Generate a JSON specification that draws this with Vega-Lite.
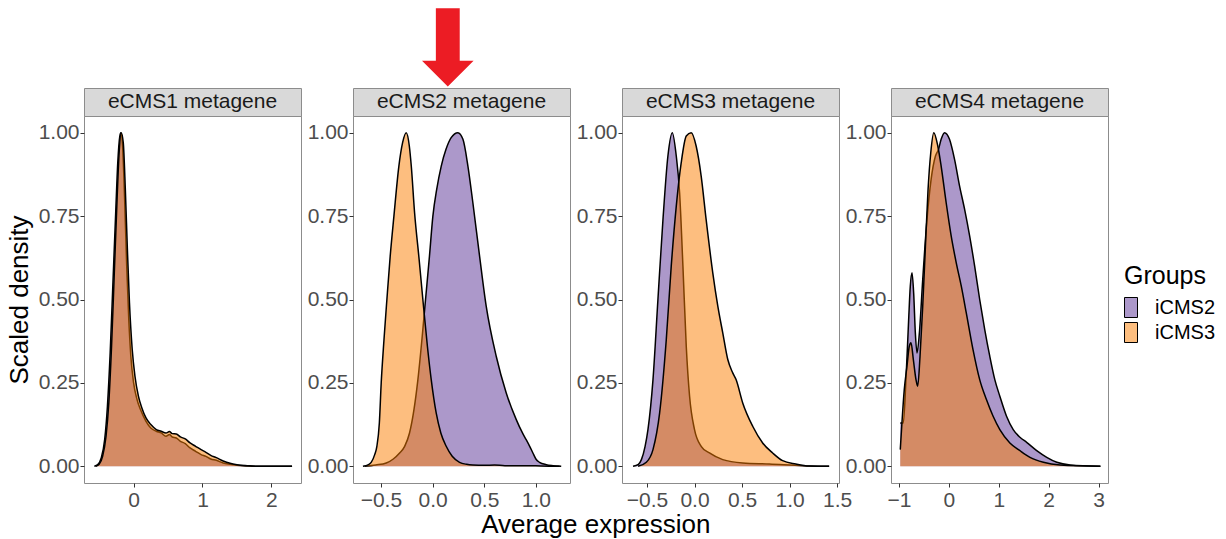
{
  "$schema": "https://vega.github.io/schema/vega-lite/v6.json",
  "padding": {"left": 5, "top": 0, "right": 5, "bottom": 5},
  "autosize": {"type": "pad"},
  "background": "white",
  "title": {"text": "Average expression", "orient": "bottom", "anchor": "middle", "fontSize": 26, "font": "Liberation Sans", "fontWeight": "normal", "color": "#000000", "offset": 1, "dx": -15},
  "datasets": {
    "d": [
      {"panel": "eCMS1 metagene", "group": "iCMS2", "x": -0.57, "y": 0},
      {"panel": "eCMS1 metagene", "group": "iCMS2", "x": -0.52, "y": 0.005},
      {"panel": "eCMS1 metagene", "group": "iCMS2", "x": -0.47, "y": 0.025},
      {"panel": "eCMS1 metagene", "group": "iCMS2", "x": -0.42, "y": 0.08},
      {"panel": "eCMS1 metagene", "group": "iCMS2", "x": -0.38, "y": 0.18},
      {"panel": "eCMS1 metagene", "group": "iCMS2", "x": -0.34, "y": 0.34},
      {"panel": "eCMS1 metagene", "group": "iCMS2", "x": -0.30, "y": 0.55},
      {"panel": "eCMS1 metagene", "group": "iCMS2", "x": -0.26, "y": 0.76},
      {"panel": "eCMS1 metagene", "group": "iCMS2", "x": -0.23, "y": 0.91},
      {"panel": "eCMS1 metagene", "group": "iCMS2", "x": -0.20, "y": 0.99},
      {"panel": "eCMS1 metagene", "group": "iCMS2", "x": -0.185, "y": 1.0},
      {"panel": "eCMS1 metagene", "group": "iCMS2", "x": -0.16, "y": 0.96},
      {"panel": "eCMS1 metagene", "group": "iCMS2", "x": -0.13, "y": 0.80},
      {"panel": "eCMS1 metagene", "group": "iCMS2", "x": -0.10, "y": 0.60},
      {"panel": "eCMS1 metagene", "group": "iCMS2", "x": -0.07, "y": 0.44},
      {"panel": "eCMS1 metagene", "group": "iCMS2", "x": -0.04, "y": 0.33},
      {"panel": "eCMS1 metagene", "group": "iCMS2", "x": 0.0, "y": 0.25},
      {"panel": "eCMS1 metagene", "group": "iCMS2", "x": 0.05, "y": 0.20},
      {"panel": "eCMS1 metagene", "group": "iCMS2", "x": 0.10, "y": 0.17},
      {"panel": "eCMS1 metagene", "group": "iCMS2", "x": 0.18, "y": 0.135},
      {"panel": "eCMS1 metagene", "group": "iCMS2", "x": 0.25, "y": 0.115},
      {"panel": "eCMS1 metagene", "group": "iCMS2", "x": 0.33, "y": 0.105},
      {"panel": "eCMS1 metagene", "group": "iCMS2", "x": 0.40, "y": 0.10},
      {"panel": "eCMS1 metagene", "group": "iCMS2", "x": 0.47, "y": 0.09},
      {"panel": "eCMS1 metagene", "group": "iCMS2", "x": 0.52, "y": 0.095},
      {"panel": "eCMS1 metagene", "group": "iCMS2", "x": 0.56, "y": 0.088},
      {"panel": "eCMS1 metagene", "group": "iCMS2", "x": 0.62, "y": 0.085},
      {"panel": "eCMS1 metagene", "group": "iCMS2", "x": 0.68, "y": 0.075},
      {"panel": "eCMS1 metagene", "group": "iCMS2", "x": 0.75, "y": 0.068},
      {"panel": "eCMS1 metagene", "group": "iCMS2", "x": 0.82, "y": 0.055},
      {"panel": "eCMS1 metagene", "group": "iCMS2", "x": 0.90, "y": 0.045},
      {"panel": "eCMS1 metagene", "group": "iCMS2", "x": 0.98, "y": 0.035},
      {"panel": "eCMS1 metagene", "group": "iCMS2", "x": 1.05, "y": 0.03},
      {"panel": "eCMS1 metagene", "group": "iCMS2", "x": 1.12, "y": 0.022},
      {"panel": "eCMS1 metagene", "group": "iCMS2", "x": 1.20, "y": 0.018},
      {"panel": "eCMS1 metagene", "group": "iCMS2", "x": 1.30, "y": 0.01},
      {"panel": "eCMS1 metagene", "group": "iCMS2", "x": 1.40, "y": 0.006},
      {"panel": "eCMS1 metagene", "group": "iCMS2", "x": 1.50, "y": 0.003},
      {"panel": "eCMS1 metagene", "group": "iCMS2", "x": 1.65, "y": 0.001},
      {"panel": "eCMS1 metagene", "group": "iCMS2", "x": 1.80, "y": 0},
      {"panel": "eCMS1 metagene", "group": "iCMS2", "x": 2.0, "y": 0},
      {"panel": "eCMS1 metagene", "group": "iCMS2", "x": 2.30, "y": 0},

      {"panel": "eCMS1 metagene", "group": "iCMS3", "x": -0.55, "y": 0},
      {"panel": "eCMS1 metagene", "group": "iCMS3", "x": -0.50, "y": 0.006},
      {"panel": "eCMS1 metagene", "group": "iCMS3", "x": -0.45, "y": 0.03},
      {"panel": "eCMS1 metagene", "group": "iCMS3", "x": -0.40, "y": 0.09},
      {"panel": "eCMS1 metagene", "group": "iCMS3", "x": -0.36, "y": 0.19},
      {"panel": "eCMS1 metagene", "group": "iCMS3", "x": -0.32, "y": 0.36},
      {"panel": "eCMS1 metagene", "group": "iCMS3", "x": -0.28, "y": 0.58},
      {"panel": "eCMS1 metagene", "group": "iCMS3", "x": -0.24, "y": 0.80},
      {"panel": "eCMS1 metagene", "group": "iCMS3", "x": -0.21, "y": 0.94},
      {"panel": "eCMS1 metagene", "group": "iCMS3", "x": -0.18, "y": 1.0},
      {"panel": "eCMS1 metagene", "group": "iCMS3", "x": -0.15, "y": 0.97},
      {"panel": "eCMS1 metagene", "group": "iCMS3", "x": -0.12, "y": 0.83},
      {"panel": "eCMS1 metagene", "group": "iCMS3", "x": -0.09, "y": 0.65},
      {"panel": "eCMS1 metagene", "group": "iCMS3", "x": -0.06, "y": 0.49},
      {"panel": "eCMS1 metagene", "group": "iCMS3", "x": -0.02, "y": 0.35},
      {"panel": "eCMS1 metagene", "group": "iCMS3", "x": 0.02, "y": 0.27},
      {"panel": "eCMS1 metagene", "group": "iCMS3", "x": 0.07, "y": 0.21},
      {"panel": "eCMS1 metagene", "group": "iCMS3", "x": 0.12, "y": 0.175},
      {"panel": "eCMS1 metagene", "group": "iCMS3", "x": 0.18, "y": 0.145},
      {"panel": "eCMS1 metagene", "group": "iCMS3", "x": 0.25, "y": 0.125},
      {"panel": "eCMS1 metagene", "group": "iCMS3", "x": 0.33, "y": 0.11},
      {"panel": "eCMS1 metagene", "group": "iCMS3", "x": 0.40, "y": 0.105},
      {"panel": "eCMS1 metagene", "group": "iCMS3", "x": 0.47, "y": 0.10},
      {"panel": "eCMS1 metagene", "group": "iCMS3", "x": 0.52, "y": 0.104},
      {"panel": "eCMS1 metagene", "group": "iCMS3", "x": 0.56, "y": 0.098},
      {"panel": "eCMS1 metagene", "group": "iCMS3", "x": 0.62, "y": 0.097},
      {"panel": "eCMS1 metagene", "group": "iCMS3", "x": 0.68, "y": 0.088},
      {"panel": "eCMS1 metagene", "group": "iCMS3", "x": 0.75, "y": 0.082},
      {"panel": "eCMS1 metagene", "group": "iCMS3", "x": 0.82, "y": 0.07},
      {"panel": "eCMS1 metagene", "group": "iCMS3", "x": 0.90, "y": 0.06},
      {"panel": "eCMS1 metagene", "group": "iCMS3", "x": 0.98, "y": 0.05},
      {"panel": "eCMS1 metagene", "group": "iCMS3", "x": 1.05, "y": 0.042},
      {"panel": "eCMS1 metagene", "group": "iCMS3", "x": 1.12, "y": 0.033},
      {"panel": "eCMS1 metagene", "group": "iCMS3", "x": 1.20, "y": 0.026},
      {"panel": "eCMS1 metagene", "group": "iCMS3", "x": 1.30, "y": 0.016},
      {"panel": "eCMS1 metagene", "group": "iCMS3", "x": 1.40, "y": 0.009},
      {"panel": "eCMS1 metagene", "group": "iCMS3", "x": 1.50, "y": 0.005},
      {"panel": "eCMS1 metagene", "group": "iCMS3", "x": 1.65, "y": 0.002},
      {"panel": "eCMS1 metagene", "group": "iCMS3", "x": 1.80, "y": 0},
      {"panel": "eCMS1 metagene", "group": "iCMS3", "x": 2.0, "y": 0},
      {"panel": "eCMS1 metagene", "group": "iCMS3", "x": 2.30, "y": 0},

      {"panel": "eCMS2 metagene", "group": "iCMS2", "x": -0.658, "y": 0},
      {"panel": "eCMS2 metagene", "group": "iCMS2", "x": -0.55, "y": 0.004},
      {"panel": "eCMS2 metagene", "group": "iCMS2", "x": -0.448, "y": 0.01},
      {"panel": "eCMS2 metagene", "group": "iCMS2", "x": -0.38, "y": 0.022},
      {"panel": "eCMS2 metagene", "group": "iCMS2", "x": -0.319, "y": 0.04},
      {"panel": "eCMS2 metagene", "group": "iCMS2", "x": -0.27, "y": 0.06},
      {"panel": "eCMS2 metagene", "group": "iCMS2", "x": -0.223, "y": 0.10},
      {"panel": "eCMS2 metagene", "group": "iCMS2", "x": -0.18, "y": 0.17},
      {"panel": "eCMS2 metagene", "group": "iCMS2", "x": -0.142, "y": 0.26},
      {"panel": "eCMS2 metagene", "group": "iCMS2", "x": -0.10, "y": 0.39},
      {"panel": "eCMS2 metagene", "group": "iCMS2", "x": -0.068, "y": 0.50},
      {"panel": "eCMS2 metagene", "group": "iCMS2", "x": -0.03, "y": 0.63},
      {"panel": "eCMS2 metagene", "group": "iCMS2", "x": 0.003, "y": 0.75},
      {"panel": "eCMS2 metagene", "group": "iCMS2", "x": 0.04, "y": 0.83},
      {"panel": "eCMS2 metagene", "group": "iCMS2", "x": 0.084, "y": 0.90},
      {"panel": "eCMS2 metagene", "group": "iCMS2", "x": 0.13, "y": 0.95},
      {"panel": "eCMS2 metagene", "group": "iCMS2", "x": 0.18, "y": 0.985},
      {"panel": "eCMS2 metagene", "group": "iCMS2", "x": 0.245, "y": 1.0},
      {"panel": "eCMS2 metagene", "group": "iCMS2", "x": 0.294, "y": 0.98},
      {"panel": "eCMS2 metagene", "group": "iCMS2", "x": 0.342, "y": 0.90},
      {"panel": "eCMS2 metagene", "group": "iCMS2", "x": 0.39, "y": 0.79},
      {"panel": "eCMS2 metagene", "group": "iCMS2", "x": 0.455, "y": 0.63},
      {"panel": "eCMS2 metagene", "group": "iCMS2", "x": 0.519, "y": 0.48},
      {"panel": "eCMS2 metagene", "group": "iCMS2", "x": 0.616, "y": 0.33},
      {"panel": "eCMS2 metagene", "group": "iCMS2", "x": 0.713, "y": 0.22},
      {"panel": "eCMS2 metagene", "group": "iCMS2", "x": 0.81, "y": 0.14},
      {"panel": "eCMS2 metagene", "group": "iCMS2", "x": 0.87, "y": 0.10},
      {"panel": "eCMS2 metagene", "group": "iCMS2", "x": 0.906, "y": 0.08},
      {"panel": "eCMS2 metagene", "group": "iCMS2", "x": 0.94, "y": 0.06},
      {"panel": "eCMS2 metagene", "group": "iCMS2", "x": 0.971, "y": 0.04},
      {"panel": "eCMS2 metagene", "group": "iCMS2", "x": 1.0, "y": 0.022},
      {"panel": "eCMS2 metagene", "group": "iCMS2", "x": 1.035, "y": 0.012},
      {"panel": "eCMS2 metagene", "group": "iCMS2", "x": 1.10, "y": 0.005},
      {"panel": "eCMS2 metagene", "group": "iCMS2", "x": 1.165, "y": 0.002},
      {"panel": "eCMS2 metagene", "group": "iCMS2", "x": 1.245, "y": 0},

      {"panel": "eCMS2 metagene", "group": "iCMS3", "x": -0.674, "y": 0},
      {"panel": "eCMS2 metagene", "group": "iCMS3", "x": -0.62, "y": 0.005},
      {"panel": "eCMS2 metagene", "group": "iCMS3", "x": -0.594, "y": 0.012},
      {"panel": "eCMS2 metagene", "group": "iCMS3", "x": -0.56, "y": 0.035},
      {"panel": "eCMS2 metagene", "group": "iCMS3", "x": -0.539, "y": 0.06},
      {"panel": "eCMS2 metagene", "group": "iCMS3", "x": -0.515, "y": 0.13},
      {"panel": "eCMS2 metagene", "group": "iCMS3", "x": -0.497, "y": 0.25},
      {"panel": "eCMS2 metagene", "group": "iCMS3", "x": -0.47, "y": 0.38},
      {"panel": "eCMS2 metagene", "group": "iCMS3", "x": -0.442, "y": 0.50},
      {"panel": "eCMS2 metagene", "group": "iCMS3", "x": -0.41, "y": 0.63},
      {"panel": "eCMS2 metagene", "group": "iCMS3", "x": -0.374, "y": 0.75},
      {"panel": "eCMS2 metagene", "group": "iCMS3", "x": -0.326, "y": 0.90},
      {"panel": "eCMS2 metagene", "group": "iCMS3", "x": -0.29, "y": 0.97},
      {"panel": "eCMS2 metagene", "group": "iCMS3", "x": -0.255, "y": 1.0},
      {"panel": "eCMS2 metagene", "group": "iCMS3", "x": -0.225, "y": 0.96},
      {"panel": "eCMS2 metagene", "group": "iCMS3", "x": -0.206, "y": 0.90},
      {"panel": "eCMS2 metagene", "group": "iCMS3", "x": -0.174, "y": 0.76},
      {"panel": "eCMS2 metagene", "group": "iCMS3", "x": -0.13, "y": 0.62},
      {"panel": "eCMS2 metagene", "group": "iCMS3", "x": -0.094, "y": 0.50},
      {"panel": "eCMS2 metagene", "group": "iCMS3", "x": -0.05, "y": 0.36},
      {"panel": "eCMS2 metagene", "group": "iCMS3", "x": -0.013, "y": 0.26},
      {"panel": "eCMS2 metagene", "group": "iCMS3", "x": 0.035, "y": 0.16},
      {"panel": "eCMS2 metagene", "group": "iCMS3", "x": 0.08, "y": 0.10},
      {"panel": "eCMS2 metagene", "group": "iCMS3", "x": 0.132, "y": 0.06},
      {"panel": "eCMS2 metagene", "group": "iCMS3", "x": 0.19, "y": 0.03},
      {"panel": "eCMS2 metagene", "group": "iCMS3", "x": 0.261, "y": 0.012},
      {"panel": "eCMS2 metagene", "group": "iCMS3", "x": 0.33, "y": 0.006},
      {"panel": "eCMS2 metagene", "group": "iCMS3", "x": 0.39, "y": 0.004},
      {"panel": "eCMS2 metagene", "group": "iCMS3", "x": 0.5, "y": 0.003},
      {"panel": "eCMS2 metagene", "group": "iCMS3", "x": 0.6, "y": 0.004},
      {"panel": "eCMS2 metagene", "group": "iCMS3", "x": 0.7, "y": 0.002},
      {"panel": "eCMS2 metagene", "group": "iCMS3", "x": 0.9, "y": 0.002},
      {"panel": "eCMS2 metagene", "group": "iCMS3", "x": 1.05, "y": 0.001},
      {"panel": "eCMS2 metagene", "group": "iCMS3", "x": 1.229, "y": 0},

      {"panel": "eCMS3 metagene", "group": "iCMS2", "x": -0.647, "y": 0},
      {"panel": "eCMS3 metagene", "group": "iCMS2", "x": -0.59, "y": 0.006},
      {"panel": "eCMS3 metagene", "group": "iCMS2", "x": -0.559, "y": 0.02},
      {"panel": "eCMS3 metagene", "group": "iCMS2", "x": -0.52, "y": 0.06},
      {"panel": "eCMS3 metagene", "group": "iCMS2", "x": -0.49, "y": 0.11},
      {"panel": "eCMS3 metagene", "group": "iCMS2", "x": -0.437, "y": 0.26},
      {"panel": "eCMS3 metagene", "group": "iCMS2", "x": -0.385, "y": 0.50},
      {"panel": "eCMS3 metagene", "group": "iCMS2", "x": -0.332, "y": 0.74},
      {"panel": "eCMS3 metagene", "group": "iCMS2", "x": -0.28, "y": 0.93},
      {"panel": "eCMS3 metagene", "group": "iCMS2", "x": -0.234, "y": 1.0},
      {"panel": "eCMS3 metagene", "group": "iCMS2", "x": -0.192, "y": 0.93},
      {"panel": "eCMS3 metagene", "group": "iCMS2", "x": -0.157, "y": 0.82},
      {"panel": "eCMS3 metagene", "group": "iCMS2", "x": -0.122, "y": 0.60},
      {"panel": "eCMS3 metagene", "group": "iCMS2", "x": -0.087, "y": 0.36},
      {"panel": "eCMS3 metagene", "group": "iCMS2", "x": -0.052, "y": 0.21},
      {"panel": "eCMS3 metagene", "group": "iCMS2", "x": 0.0, "y": 0.11},
      {"panel": "eCMS3 metagene", "group": "iCMS2", "x": 0.07, "y": 0.06},
      {"panel": "eCMS3 metagene", "group": "iCMS2", "x": 0.157, "y": 0.04},
      {"panel": "eCMS3 metagene", "group": "iCMS2", "x": 0.297, "y": 0.02},
      {"panel": "eCMS3 metagene", "group": "iCMS2", "x": 0.507, "y": 0.01},
      {"panel": "eCMS3 metagene", "group": "iCMS2", "x": 0.787, "y": 0.007},
      {"panel": "eCMS3 metagene", "group": "iCMS2", "x": 1.136, "y": 0.002},
      {"panel": "eCMS3 metagene", "group": "iCMS2", "x": 1.416, "y": 0},

      {"panel": "eCMS3 metagene", "group": "iCMS3", "x": -0.594, "y": 0},
      {"panel": "eCMS3 metagene", "group": "iCMS3", "x": -0.507, "y": 0.012},
      {"panel": "eCMS3 metagene", "group": "iCMS3", "x": -0.437, "y": 0.05},
      {"panel": "eCMS3 metagene", "group": "iCMS3", "x": -0.367, "y": 0.16},
      {"panel": "eCMS3 metagene", "group": "iCMS3", "x": -0.297, "y": 0.38},
      {"panel": "eCMS3 metagene", "group": "iCMS3", "x": -0.245, "y": 0.60},
      {"panel": "eCMS3 metagene", "group": "iCMS3", "x": -0.192, "y": 0.78},
      {"panel": "eCMS3 metagene", "group": "iCMS3", "x": -0.14, "y": 0.91},
      {"panel": "eCMS3 metagene", "group": "iCMS3", "x": -0.087, "y": 0.99},
      {"panel": "eCMS3 metagene", "group": "iCMS3", "x": -0.035, "y": 1.0},
      {"panel": "eCMS3 metagene", "group": "iCMS3", "x": 0.017, "y": 0.96},
      {"panel": "eCMS3 metagene", "group": "iCMS3", "x": 0.07, "y": 0.87},
      {"panel": "eCMS3 metagene", "group": "iCMS3", "x": 0.122, "y": 0.74},
      {"panel": "eCMS3 metagene", "group": "iCMS3", "x": 0.192, "y": 0.58},
      {"panel": "eCMS3 metagene", "group": "iCMS3", "x": 0.245, "y": 0.48},
      {"panel": "eCMS3 metagene", "group": "iCMS3", "x": 0.297, "y": 0.40},
      {"panel": "eCMS3 metagene", "group": "iCMS3", "x": 0.35, "y": 0.32},
      {"panel": "eCMS3 metagene", "group": "iCMS3", "x": 0.402, "y": 0.28},
      {"panel": "eCMS3 metagene", "group": "iCMS3", "x": 0.437, "y": 0.26},
      {"panel": "eCMS3 metagene", "group": "iCMS3", "x": 0.507, "y": 0.19},
      {"panel": "eCMS3 metagene", "group": "iCMS3", "x": 0.612, "y": 0.12},
      {"panel": "eCMS3 metagene", "group": "iCMS3", "x": 0.717, "y": 0.07},
      {"panel": "eCMS3 metagene", "group": "iCMS3", "x": 0.822, "y": 0.04},
      {"panel": "eCMS3 metagene", "group": "iCMS3", "x": 0.927, "y": 0.017},
      {"panel": "eCMS3 metagene", "group": "iCMS3", "x": 1.066, "y": 0.007},
      {"panel": "eCMS3 metagene", "group": "iCMS3", "x": 1.206, "y": 0.001},
      {"panel": "eCMS3 metagene", "group": "iCMS3", "x": 1.416, "y": 0},

      {"panel": "eCMS4 metagene", "group": "iCMS2", "x": -0.974, "y": 0.13},
      {"panel": "eCMS4 metagene", "group": "iCMS2", "x": -0.914, "y": 0.13},
      {"panel": "eCMS4 metagene", "group": "iCMS2", "x": -0.860, "y": 0.26},
      {"panel": "eCMS4 metagene", "group": "iCMS2", "x": -0.806, "y": 0.44},
      {"panel": "eCMS4 metagene", "group": "iCMS2", "x": -0.773, "y": 0.54},
      {"panel": "eCMS4 metagene", "group": "iCMS2", "x": -0.739, "y": 0.58},
      {"panel": "eCMS4 metagene", "group": "iCMS2", "x": -0.706, "y": 0.52},
      {"panel": "eCMS4 metagene", "group": "iCMS2", "x": -0.672, "y": 0.40},
      {"panel": "eCMS4 metagene", "group": "iCMS2", "x": -0.638, "y": 0.34},
      {"panel": "eCMS4 metagene", "group": "iCMS2", "x": -0.591, "y": 0.40},
      {"panel": "eCMS4 metagene", "group": "iCMS2", "x": -0.524, "y": 0.56},
      {"panel": "eCMS4 metagene", "group": "iCMS2", "x": -0.444, "y": 0.73},
      {"panel": "eCMS4 metagene", "group": "iCMS2", "x": -0.356, "y": 0.86},
      {"panel": "eCMS4 metagene", "group": "iCMS2", "x": -0.269, "y": 0.93},
      {"panel": "eCMS4 metagene", "group": "iCMS2", "x": -0.208, "y": 0.95},
      {"panel": "eCMS4 metagene", "group": "iCMS2", "x": -0.155, "y": 0.98},
      {"panel": "eCMS4 metagene", "group": "iCMS2", "x": -0.087, "y": 1.0},
      {"panel": "eCMS4 metagene", "group": "iCMS2", "x": 0.013, "y": 0.98},
      {"panel": "eCMS4 metagene", "group": "iCMS2", "x": 0.114, "y": 0.92},
      {"panel": "eCMS4 metagene", "group": "iCMS2", "x": 0.215, "y": 0.84},
      {"panel": "eCMS4 metagene", "group": "iCMS2", "x": 0.316, "y": 0.77},
      {"panel": "eCMS4 metagene", "group": "iCMS2", "x": 0.417, "y": 0.69},
      {"panel": "eCMS4 metagene", "group": "iCMS2", "x": 0.517, "y": 0.60},
      {"panel": "eCMS4 metagene", "group": "iCMS2", "x": 0.618, "y": 0.50},
      {"panel": "eCMS4 metagene", "group": "iCMS2", "x": 0.719, "y": 0.41},
      {"panel": "eCMS4 metagene", "group": "iCMS2", "x": 0.820, "y": 0.33},
      {"panel": "eCMS4 metagene", "group": "iCMS2", "x": 0.921, "y": 0.26},
      {"panel": "eCMS4 metagene", "group": "iCMS2", "x": 1.022, "y": 0.21},
      {"panel": "eCMS4 metagene", "group": "iCMS2", "x": 1.156, "y": 0.15},
      {"panel": "eCMS4 metagene", "group": "iCMS2", "x": 1.290, "y": 0.11},
      {"panel": "eCMS4 metagene", "group": "iCMS2", "x": 1.425, "y": 0.087},
      {"panel": "eCMS4 metagene", "group": "iCMS2", "x": 1.559, "y": 0.072},
      {"panel": "eCMS4 metagene", "group": "iCMS2", "x": 1.761, "y": 0.047},
      {"panel": "eCMS4 metagene", "group": "iCMS2", "x": 1.962, "y": 0.027},
      {"panel": "eCMS4 metagene", "group": "iCMS2", "x": 2.164, "y": 0.012},
      {"panel": "eCMS4 metagene", "group": "iCMS2", "x": 2.433, "y": 0.004},
      {"panel": "eCMS4 metagene", "group": "iCMS2", "x": 3.038, "y": 0},

      {"panel": "eCMS4 metagene", "group": "iCMS3", "x": -0.974, "y": 0.05},
      {"panel": "eCMS4 metagene", "group": "iCMS3", "x": -0.941, "y": 0.13},
      {"panel": "eCMS4 metagene", "group": "iCMS3", "x": -0.894, "y": 0.23},
      {"panel": "eCMS4 metagene", "group": "iCMS3", "x": -0.840, "y": 0.30},
      {"panel": "eCMS4 metagene", "group": "iCMS3", "x": -0.793, "y": 0.36},
      {"panel": "eCMS4 metagene", "group": "iCMS3", "x": -0.759, "y": 0.37},
      {"panel": "eCMS4 metagene", "group": "iCMS3", "x": -0.712, "y": 0.32},
      {"panel": "eCMS4 metagene", "group": "iCMS3", "x": -0.659, "y": 0.26},
      {"panel": "eCMS4 metagene", "group": "iCMS3", "x": -0.625, "y": 0.24},
      {"panel": "eCMS4 metagene", "group": "iCMS3", "x": -0.578, "y": 0.33},
      {"panel": "eCMS4 metagene", "group": "iCMS3", "x": -0.524, "y": 0.48},
      {"panel": "eCMS4 metagene", "group": "iCMS3", "x": -0.470, "y": 0.66},
      {"panel": "eCMS4 metagene", "group": "iCMS3", "x": -0.417, "y": 0.83},
      {"panel": "eCMS4 metagene", "group": "iCMS3", "x": -0.363, "y": 0.94},
      {"panel": "eCMS4 metagene", "group": "iCMS3", "x": -0.302, "y": 1.0},
      {"panel": "eCMS4 metagene", "group": "iCMS3", "x": -0.222, "y": 0.96},
      {"panel": "eCMS4 metagene", "group": "iCMS3", "x": -0.155, "y": 0.90},
      {"panel": "eCMS4 metagene", "group": "iCMS3", "x": -0.054, "y": 0.79},
      {"panel": "eCMS4 metagene", "group": "iCMS3", "x": 0.047, "y": 0.69},
      {"panel": "eCMS4 metagene", "group": "iCMS3", "x": 0.148, "y": 0.61},
      {"panel": "eCMS4 metagene", "group": "iCMS3", "x": 0.249, "y": 0.54},
      {"panel": "eCMS4 metagene", "group": "iCMS3", "x": 0.349, "y": 0.46},
      {"panel": "eCMS4 metagene", "group": "iCMS3", "x": 0.484, "y": 0.35},
      {"panel": "eCMS4 metagene", "group": "iCMS3", "x": 0.618, "y": 0.26},
      {"panel": "eCMS4 metagene", "group": "iCMS3", "x": 0.753, "y": 0.20},
      {"panel": "eCMS4 metagene", "group": "iCMS3", "x": 0.887, "y": 0.15},
      {"panel": "eCMS4 metagene", "group": "iCMS3", "x": 1.022, "y": 0.11},
      {"panel": "eCMS4 metagene", "group": "iCMS3", "x": 1.223, "y": 0.07},
      {"panel": "eCMS4 metagene", "group": "iCMS3", "x": 1.425, "y": 0.047},
      {"panel": "eCMS4 metagene", "group": "iCMS3", "x": 1.626, "y": 0.027},
      {"panel": "eCMS4 metagene", "group": "iCMS3", "x": 1.895, "y": 0.012},
      {"panel": "eCMS4 metagene", "group": "iCMS3", "x": 2.231, "y": 0.004},
      {"panel": "eCMS4 metagene", "group": "iCMS3", "x": 3.038, "y": 0}
    ]
  },
  "columns": 4,
  "bounds": "flush",
  "align": "each",
  "spacing": {"row": 0, "column": 52},
  "concat": [
    {"width": 217, "height": 28, "data": {"values": [{"t": "eCMS1 metagene"}]}, "view": {"fill": "#d9d9d9", "stroke": "#8c8c8c"}, "mark": {"type": "text", "fontSize": 21, "color": "#1a1a1a", "baseline": "middle"}, "encoding": {"text": {"field": "t"}}},
    {"width": 217, "height": 28, "data": {"values": [{"t": "eCMS2 metagene"}]}, "view": {"fill": "#d9d9d9", "stroke": "#8c8c8c"},
     "title": {"text": "⬇", "font": "DejaVu Sans", "fontSize": 104, "color": "#ec1c24", "offset": -18, "dx": -14, "anchor": "middle", "fontWeight": "normal"},
     "mark": {"type": "text", "fontSize": 21, "color": "#1a1a1a", "baseline": "middle"}, "encoding": {"text": {"field": "t"}}},
    {"width": 217, "height": 28, "data": {"values": [{"t": "eCMS3 metagene"}]}, "view": {"fill": "#d9d9d9", "stroke": "#8c8c8c"}, "mark": {"type": "text", "fontSize": 21, "color": "#1a1a1a", "baseline": "middle"}, "encoding": {"text": {"field": "t"}}},
    {"width": 217, "height": 28, "data": {"values": [{"t": "eCMS4 metagene"}]}, "view": {"fill": "#d9d9d9", "stroke": "#8c8c8c"}, "mark": {"type": "text", "fontSize": 21, "color": "#1a1a1a", "baseline": "middle"}, "encoding": {"text": {"field": "t"}}},
    {
      "width": 217, "height": 367,
      "data": {"name": "d"},
      "transform": [{"filter": "datum.panel === 'eCMS1 metagene'"}],
      "encoding": {
        "x": {"field": "x", "type": "quantitative", "scale": {"domain": [-0.72, 2.43], "nice": false, "zero": false}, "axis": {"values": [0, 1, 2], "format": "d", "title": null}},
        "y": {"field": "y", "type": "quantitative", "scale": {"domain": [-0.05, 1.05], "nice": false, "zero": false}, "axis": {"values": [0, 0.25, 0.5, 0.75, 1], "format": ".2f", "title": "Scaled density"}},
        "color": {"field": "group", "type": "nominal", "scale": {"domain": ["iCMS2", "iCMS3"], "range": ["#5a3296", "#fb7d00"]}, "legend": {"title": "Groups", "encode": {"symbols": {"update": {"fillOpacity": {"value": 0.5}, "strokeOpacity": {"value": 1}, "opacity": {"value": 1}}}}}}
      },
      "layer": [
        {"transform": [{"filter": "datum.group === 'iCMS2'"}], "mark": {"type": "area", "fillOpacity": 0.5, "interpolate": "monotone"}},
        {"transform": [{"filter": "datum.group === 'iCMS2'"}], "mark": {"type": "line", "strokeWidth": 1.5, "interpolate": "monotone"}, "encoding": {"color": {"value": "black"}}},
        {"transform": [{"filter": "datum.group === 'iCMS3'"}], "mark": {"type": "area", "fillOpacity": 0.5, "interpolate": "monotone"}},
        {"transform": [{"filter": "datum.group === 'iCMS3'"}], "mark": {"type": "line", "strokeWidth": 1.5, "interpolate": "monotone"}, "encoding": {"color": {"value": "black"}}}
      ]
    },
    {
      "width": 217, "height": 367,
      "data": {"name": "d"},
      "transform": [{"filter": "datum.panel === 'eCMS2 metagene'"}],
      "encoding": {
        "x": {"field": "x", "type": "quantitative", "scale": {"domain": [-0.77, 1.33], "nice": false, "zero": false}, "axis": {"values": [-0.5, 0, 0.5, 1], "format": ".1f", "title": null}},
        "y": {"field": "y", "type": "quantitative", "scale": {"domain": [-0.05, 1.05], "nice": false, "zero": false}, "axis": {"values": [0, 0.25, 0.5, 0.75, 1], "format": ".2f", "title": null}},
        "color": {"field": "group", "type": "nominal", "scale": {"domain": ["iCMS2", "iCMS3"], "range": ["#5a3296", "#fb7d00"]}, "legend": {"title": "Groups", "encode": {"symbols": {"update": {"fillOpacity": {"value": 0.5}, "strokeOpacity": {"value": 1}, "opacity": {"value": 1}}}}}}
      },
      "layer": [
        {"transform": [{"filter": "datum.group === 'iCMS2'"}], "mark": {"type": "area", "fillOpacity": 0.5, "interpolate": "monotone"}},
        {"transform": [{"filter": "datum.group === 'iCMS2'"}], "mark": {"type": "line", "strokeWidth": 1.5, "interpolate": "monotone"}, "encoding": {"color": {"value": "black"}}},
        {"transform": [{"filter": "datum.group === 'iCMS3'"}], "mark": {"type": "area", "fillOpacity": 0.5, "interpolate": "monotone"}},
        {"transform": [{"filter": "datum.group === 'iCMS3'"}], "mark": {"type": "line", "strokeWidth": 1.5, "interpolate": "monotone"}, "encoding": {"color": {"value": "black"}}}
      ]
    },
    {
      "width": 217, "height": 367,
      "data": {"name": "d"},
      "transform": [{"filter": "datum.panel === 'eCMS3 metagene'"}],
      "encoding": {
        "x": {"field": "x", "type": "quantitative", "scale": {"domain": [-0.763, 1.52], "nice": false, "zero": false}, "axis": {"values": [-0.5, 0, 0.5, 1, 1.5], "format": ".1f", "title": null}},
        "y": {"field": "y", "type": "quantitative", "scale": {"domain": [-0.05, 1.05], "nice": false, "zero": false}, "axis": {"values": [0, 0.25, 0.5, 0.75, 1], "format": ".2f", "title": null}},
        "color": {"field": "group", "type": "nominal", "scale": {"domain": ["iCMS2", "iCMS3"], "range": ["#5a3296", "#fb7d00"]}, "legend": {"title": "Groups", "encode": {"symbols": {"update": {"fillOpacity": {"value": 0.5}, "strokeOpacity": {"value": 1}, "opacity": {"value": 1}}}}}}
      },
      "layer": [
        {"transform": [{"filter": "datum.group === 'iCMS2'"}], "mark": {"type": "area", "fillOpacity": 0.5, "interpolate": "monotone"}},
        {"transform": [{"filter": "datum.group === 'iCMS2'"}], "mark": {"type": "line", "strokeWidth": 1.5, "interpolate": "monotone"}, "encoding": {"color": {"value": "black"}}},
        {"transform": [{"filter": "datum.group === 'iCMS3'"}], "mark": {"type": "area", "fillOpacity": 0.5, "interpolate": "monotone"}},
        {"transform": [{"filter": "datum.group === 'iCMS3'"}], "mark": {"type": "line", "strokeWidth": 1.5, "interpolate": "monotone"}, "encoding": {"color": {"value": "black"}}}
      ]
    },
    {
      "width": 217, "height": 367,
      "data": {"name": "d"},
      "transform": [{"filter": "datum.panel === 'eCMS4 metagene'"}],
      "encoding": {
        "x": {"field": "x", "type": "quantitative", "scale": {"domain": [-1.16, 3.19], "nice": false, "zero": false}, "axis": {"values": [-1, 0, 1, 2, 3], "format": "d", "title": null}},
        "y": {"field": "y", "type": "quantitative", "scale": {"domain": [-0.05, 1.05], "nice": false, "zero": false}, "axis": {"values": [0, 0.25, 0.5, 0.75, 1], "format": ".2f", "title": null}},
        "color": {"field": "group", "type": "nominal", "scale": {"domain": ["iCMS2", "iCMS3"], "range": ["#5a3296", "#fb7d00"]}, "legend": {"title": "Groups", "encode": {"symbols": {"update": {"fillOpacity": {"value": 0.5}, "strokeOpacity": {"value": 1}, "opacity": {"value": 1}}}}}}
      },
      "layer": [
        {"transform": [{"filter": "datum.group === 'iCMS2'"}], "mark": {"type": "area", "fillOpacity": 0.5, "interpolate": "monotone"}},
        {"transform": [{"filter": "datum.group === 'iCMS2'"}], "mark": {"type": "line", "strokeWidth": 1.5, "interpolate": "monotone"}, "encoding": {"color": {"value": "black"}}},
        {"transform": [{"filter": "datum.group === 'iCMS3'"}], "mark": {"type": "area", "fillOpacity": 0.5, "interpolate": "monotone"}},
        {"transform": [{"filter": "datum.group === 'iCMS3'"}], "mark": {"type": "line", "strokeWidth": 1.5, "interpolate": "monotone"}, "encoding": {"color": {"value": "black"}}}
      ]
    }
  ],
  "config": {
    "font": "Liberation Sans",
    "view": {"stroke": "#8c8c8c", "strokeWidth": 1},
    "axis": {"grid": false, "domain": false, "tickColor": "#333333", "tickSize": 4, "labelFontSize": 21, "labelColor": "#4d4d4d", "labelFont": "Liberation Sans", "titleFont": "Liberation Sans", "titleFontSize": 26, "titleFontWeight": "normal", "titleColor": "#000000", "labelPadding": 2, "labelFlush": false, "labelOverlap": false, "labelBound": false},
    "axisY": {"titlePadding": 6, "labelPadding": 1},
    "legend": {"orient": "none", "legendX": 1040, "legendY": 176, "symbolType": "M-1,-1H0.3V1H-1Z", "symbolSize": 400, "symbolStrokeColor": "black", "symbolStrokeWidth": 1, "rowPadding": 0, "labelFontSize": 20, "titleFontSize": 25, "titleFontWeight": "normal", "labelFont": "Liberation Sans", "titleFont": "Liberation Sans", "labelColor": "#000000", "titleColor": "#000000", "titlePadding": 8, "labelOffset": 10}
  }
}
